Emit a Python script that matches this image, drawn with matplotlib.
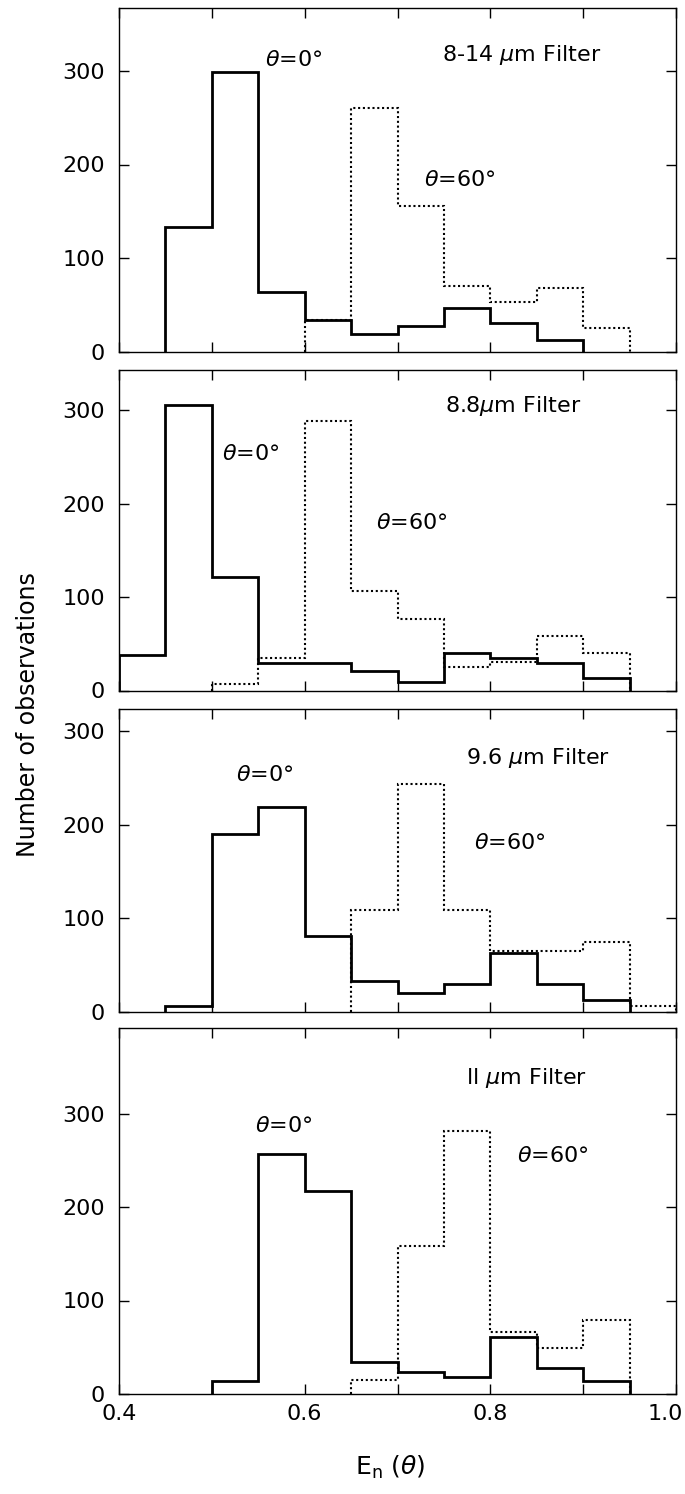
import matplotlib.pyplot as plt
import matplotlib.transforms as mtransforms
import numpy as np

# emissivity histograms, 4 filters, theta = 0 (solid) and theta = 60 (dotted)
filters = ['8-14 $\\mu$m Filter', '8.8$\\mu$m Filter', '9.6 $\\mu$m Filter', 'll $\\mu$m Filter']

edges0_a = [0.45, 0.50, 0.55, 0.60, 0.65, 0.70, 0.75, 0.80, 0.85, 0.90]
counts0_a = [133, 299, 64, 34, 19, 27, 47, 30, 12]
edges60_a = [0.60, 0.65, 0.70, 0.75, 0.80, 0.85, 0.90, 0.95]
counts60_a = [34, 260, 156, 70, 53, 68, 25]

edges0_b = [0.40, 0.45, 0.50, 0.55, 0.60, 0.65, 0.70, 0.75, 0.80, 0.85, 0.90, 0.95]
counts0_b = [38, 305, 121, 29, 29, 21, 9, 40, 35, 29, 13]
edges60_b = [0.50, 0.55, 0.60, 0.65, 0.70, 0.75, 0.80, 0.85, 0.90, 0.95]
counts60_b = [7, 35, 288, 106, 76, 25, 31, 58, 40]

edges0_c = [0.45, 0.50, 0.55, 0.60, 0.65, 0.70, 0.75, 0.80, 0.85, 0.90, 0.95]
counts0_c = [6, 190, 219, 81, 33, 20, 30, 63, 30, 12]
edges60_c = [0.65, 0.70, 0.75, 0.80, 0.85, 0.90, 0.95, 1.00]
counts60_c = [109, 244, 109, 65, 65, 75, 6]

edges0_d = [0.50, 0.55, 0.60, 0.65, 0.70, 0.75, 0.80, 0.85, 0.90, 0.95]
counts0_d = [14, 257, 217, 34, 24, 18, 61, 28, 14]
edges60_d = [0.65, 0.70, 0.75, 0.80, 0.85, 0.90, 0.95]
counts60_d = [15, 158, 281, 66, 49, 79]

# label positions (x, y) in data units: filter, theta=0, theta=60
lab_filter = [(0.748, 317), (0.751, 304), (0.774, 271), (0.774, 338)]
lab_0 = [(0.557, 312), (0.511, 253), (0.526, 253), (0.547, 287)]
lab_60 = [(0.729, 183), (0.677, 179), (0.782, 180), (0.829, 255)]

solid = [(edges0_a, counts0_a), (edges0_b, counts0_b), (edges0_c, counts0_c), (edges0_d, counts0_d)]
dotted = [(edges60_a, counts60_a), (edges60_b, counts60_b), (edges60_c, counts60_c), (edges60_d, counts60_d)]

W, H = 685, 1494
fig = plt.figure(figsize=(W / 100, H / 100), dpi=100)

# panel top/bottom in pixels, same counts-per-pixel scale in all panels
panels_px = [(8, 351.5), (370, 690.5), (709, 1011.7), (1028, 1394)]
px_per_count = 0.935
left_px, right_px = 119, 676

for i, (top, bot) in enumerate(panels_px):
    ax = fig.add_axes([left_px / W, 1 - bot / H, (right_px - left_px) / W, (bot - top) / H])
    e, c = solid[i]
    ax.stairs(c, e, baseline=0, color='black', lw=2.0)
    e, c = dotted[i]
    ax.stairs(c, e, baseline=0, color='black', lw=1.5, linestyle=(0, (1, 1.3)))

    ax.set_xlim(0.4, 1.0)
    ax.set_ylim(0, (bot - top) / px_per_count)
    ax.set_xticks(np.arange(0.4, 1.01, 0.1))
    ax.set_yticks([0, 100, 200, 300])
    ax.tick_params(direction='in', length=7, width=1, top=True, right=True,
                   labelsize=16, pad=10)
    ax.set_yticklabels(['0', '100', '200', '300'])
    if i == 3:
        ax.set_xticklabels(['0.4', '', '0.6', '', '0.8', '', '1.0'])
        ax.tick_params(axis='x', pad=7)
        # last label sits against the figure edge, keep it inside
        last = ax.get_xticklabels()[-1]
        last.set_ha('right')
        last.set_transform(last.get_transform() +
                           mtransforms.ScaledTranslation(0.07, 0, fig.dpi_scale_trans))
    else:
        ax.set_xticklabels([])
    for s in ax.spines.values():
        s.set_linewidth(1.0)

    ax.text(*lab_filter[i], filters[i], fontsize=16, va='center', ha='left')
    ax.text(*lab_0[i], '$\\theta$=0°', fontsize=16, va='center', ha='left')
    ax.text(*lab_60[i], '$\\theta$=60°', fontsize=16, va='center', ha='left')

fig.text(28 / W, 1 - 715 / H, 'Number of observations', rotation=90,
         fontsize=17, ha='center', va='center')
fig.text(390 / W, 1 - 1467 / H, 'E$_{\\rm n}$ ($\\theta$)', fontsize=18,
         ha='center', va='center')

plt.savefig('out.png', dpi=100)
